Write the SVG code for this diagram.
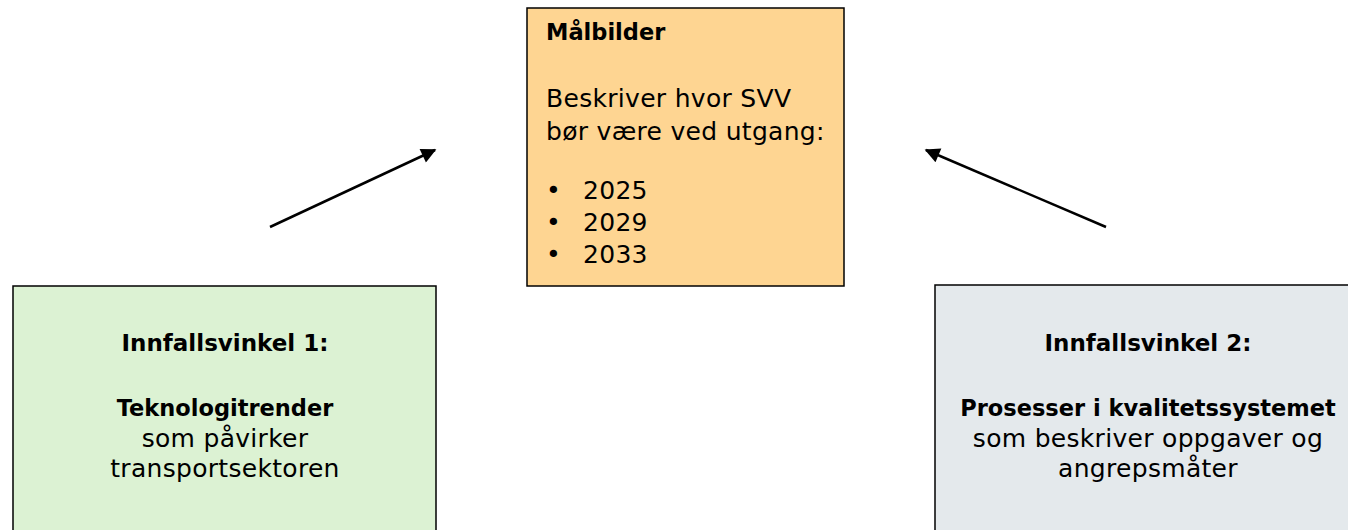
<svg xmlns="http://www.w3.org/2000/svg" width="1348" height="530" viewBox="0 0 1348 530">
<style>
.box{stroke:#000;stroke-width:1.5}
text{font-family:"DejaVu Sans","Noto Sans",sans-serif;font-size:25px;letter-spacing:0.3px;fill:#000}
.b{font-weight:bold;font-size:22.5px;letter-spacing:0}
.h{font-weight:bold;font-size:23px;letter-spacing:0}
.c{text-anchor:middle}
.conn{stroke:#000;stroke-width:2.5;fill:none}
</style>
<defs>
<marker id="arr" viewBox="0 0 10 10" refX="9" refY="5" markerWidth="19" markerHeight="15" markerUnits="userSpaceOnUse" orient="auto">
<path d="M0,0 L10,5 L0,10 Z" fill="#000"/>
</marker>
</defs>
<g id="malbilder">
<rect class="box" x="527" y="8" width="317" height="278" fill="#FED592"/>
<text class="b" x="546" y="40">Målbilder</text>
<text x="546" y="107">Beskriver hvor SVV</text>
<text x="546" y="140">bør være ved utgang:</text>
<text x="546" y="199">•</text><text x="583" y="199">2025</text>
<text x="546" y="231">•</text><text x="583" y="231">2029</text>
<text x="546" y="263">•</text><text x="583" y="263">2033</text>
</g>
<g id="innfallsvinkel1">
<rect class="box" x="13" y="286" width="423" height="260" fill="#DCF2D3"/>
<text class="c h" x="225" y="351">Innfallsvinkel 1:</text>
<text class="c b" x="225" y="416">Teknologitrender</text>
<text class="c" x="225" y="447">som påvirker</text>
<text class="c" x="225" y="477">transportsektoren</text>
</g>
<g id="innfallsvinkel2">
<rect class="box" x="935" y="285" width="430" height="260" fill="#E4E9EC"/>
<text class="c h" x="1148" y="351">Innfallsvinkel 2:</text>
<text class="c b" x="1148" y="416">Prosesser i kvalitetssystemet</text>
<text class="c" x="1148" y="447">som beskriver oppgaver og</text>
<text class="c" x="1148" y="477">angrepsmåter</text>
</g>
<g id="connectors">
<line class="conn" x1="270" y1="227" x2="435" y2="150" marker-end="url(#arr)"/>
<line class="conn" x1="1106" y1="227" x2="926" y2="150" marker-end="url(#arr)"/>
</g>
</svg>
